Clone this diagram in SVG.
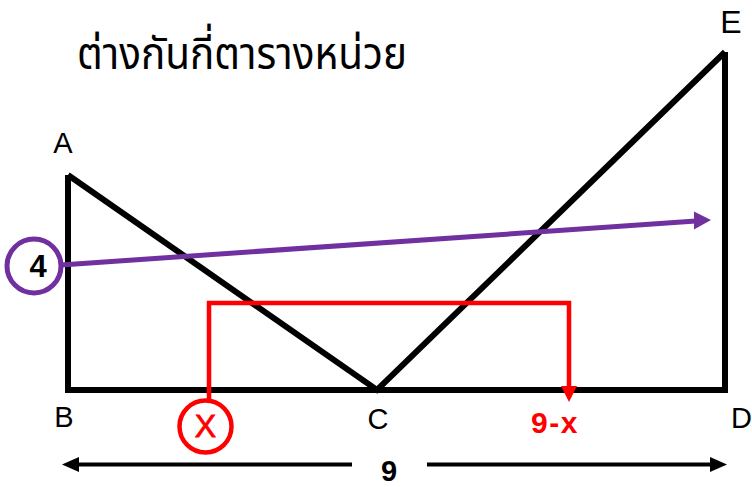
<svg xmlns="http://www.w3.org/2000/svg" width="752" height="487" viewBox="0 0 752 487">
  <style>
    .lbl { font-family: "Liberation Sans", Arial, sans-serif; fill: #000; }
    .shape { fill: none; stroke: #000; stroke-width: 6; stroke-linejoin: miter; }
    .red { fill: none; stroke: #FF0000; stroke-width: 4.5; }
    .purple { fill: none; stroke: #7030A0; stroke-width: 5; }
    .dim { fill: none; stroke: #000; stroke-width: 4; }
  </style>
  <rect width="752" height="487" fill="#FFFFFF"/>

  <g id="title">
    <text x="77" y="69" font-family="'Noto Sans Thai', 'Noto Sans', 'DejaVu Sans', sans-serif" font-size="45" fill="#000" textLength="330" lengthAdjust="spacingAndGlyphs">ต่างกันกี่ตารางหน่วย</text>
  </g>

  <g id="shape">
    <path class="shape" d="M68,175 L68,390 L725,390 L725,52"/>
    <path class="shape" d="M68,175 L377,390 L725,52"/>
  </g>

  <g id="labels">
    <text class="lbl" x="63" y="153" font-size="29" text-anchor="middle">A</text>
    <text class="lbl" x="64" y="427" font-size="29" text-anchor="middle">B</text>
    <text class="lbl" x="378" y="429" font-size="29" text-anchor="middle">C</text>
    <text class="lbl" x="731" y="428" font-size="29">D</text>
    <text class="lbl" x="731" y="33" font-size="32" text-anchor="middle">E</text>
  </g>

  <g id="connectors">
    <g id="purple-arrow">
      <line class="purple" x1="61" y1="265" x2="696" y2="221"/>
      <polygon points="711,220 694,211.5 694,229.5" fill="#7030A0"/>
    </g>
    <g id="red-arrow">
      <path class="red" d="M209,399 V303 H569 V388"/>
      <polygon points="561,386 577,386 569,402" fill="#FF0000"/>
    </g>
    <g id="dimension">
      <line class="dim" x1="76" y1="464.5" x2="352" y2="464.5"/>
      <line class="dim" x1="427" y1="464.5" x2="713" y2="464.5"/>
      <polygon points="62,464.5 79,457 79,472" fill="#000"/>
      <polygon points="727,464.5 710,457 710,472" fill="#000"/>
    </g>
  </g>

  <g id="node-4">
    <circle class="purple" cx="34" cy="266" r="27"/>
    <text class="lbl" x="38" y="277" font-size="31" font-weight="bold" text-anchor="middle">4</text>
  </g>

  <g id="node-x">
    <circle class="red" cx="205.5" cy="426.5" r="26"/>
    <text class="lbl" x="205.5" y="437" font-size="32" text-anchor="middle" style="fill:#FF0000;stroke:#FF0000;stroke-width:0.8">X</text>
  </g>

  <g id="label-9-x">
    <text class="lbl" x="555" y="433" font-size="30" font-weight="bold" text-anchor="middle" letter-spacing="1.5" style="fill:#FF0000">9-x</text>
  </g>

  <g id="label-9">
    <text class="lbl" x="389" y="481" font-size="29" font-weight="bold" text-anchor="middle">9</text>
  </g>
</svg>
